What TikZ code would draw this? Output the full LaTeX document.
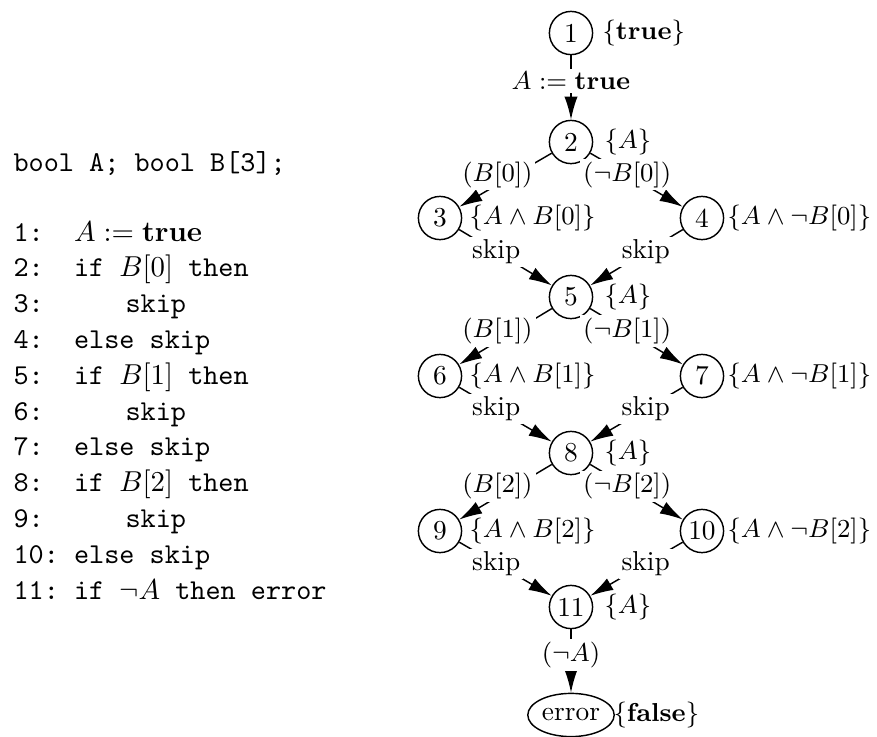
\documentclass[tikz,border=0pt]{standalone}
\usetikzlibrary{arrows.meta,shapes.geometric}
\begin{document}
\begin{tikzpicture}[x=0.3472pt,y=-0.3472pt,
  gfont/.style={font=\fontsize{9.5}{11.5}\selectfont},
  st/.style={circle,draw,line width=0.5pt,minimum size=15pt,inner sep=0.5pt,gfont},
  errst/.style={ellipse,draw,line width=0.5pt,minimum width=30pt,minimum height=15pt,inner sep=0pt,gfont},
  anno/.style={anchor=west,inner sep=0pt,gfont},
  elab/.style={fill=white,inner sep=1pt,pos=0.4,gfont},
  flow/.style={draw,line width=0.5pt,-{Latex[length=8pt,width=4.6pt]}},
  code/.style={anchor=base west,inner sep=0pt,font=\ttfamily}]
\useasboundingbox (0,0) rectangle (877,737);
% listing
\node[code] (decl) at (13,171) {bool A; bool B[3];};
\foreach \i in {1,...,11} {
  \node[code] (ln\i) at (13,{241+35.8*(\i-1)}) {\i:};
}
\node[code] (c1) at (73.5,241) {$A:=\mathbf{true}$};
\node[code] (c2) at (73.5,276.8) {if $B[0]$ then};
\node[code] (c3) at (125,312.6) {skip};
\node[code] (c4) at (73.5,348.4) {else skip};
\node[code] (c5) at (73.5,384.2) {if $B[1]$ then};
\node[code] (c6) at (125,420) {skip};
\node[code] (c7) at (73.5,455.8) {else skip};
\node[code] (c8) at (73.5,491.6) {if $B[2]$ then};
\node[code] (c9) at (125,527.4) {skip};
\node[code] (c10) at (73.5,563.2) {else skip};
\node[code] (c11) at (73.5,599) {if $\neg A$ then error};
% graph nodes
\node[st] (n1) at (571,33) {1};
\node[st] (n2) at (571,142) {2};
\node[st] (n3) at (440,218) {3};
\node[st] (n4) at (702,218) {4};
\node[st] (n5) at (571,297) {5};
\node[st] (n6) at (440,376) {6};
\node[st] (n7) at (702,376) {7};
\node[st] (n8) at (571,453) {8};
\node[st] (n9) at (440,531) {9};
\node[st] (n10) at (702,531) {10};
\node[st] (n11) at (571,607) {11};
\node[errst] (err) at (571,715) {error};
% annotations
\node[anno] (a1) at (602,33) {$\{\mathbf{true}\}$};
\node[anno] (a2) at (604,142) {$\{A\}$};
\node[anno] (a3) at (469,218) {$\{A\wedge B[0]\}$};
\node[anno] (a4) at (727,218) {$\{A\wedge\neg B[0]\}$};
\node[anno] (a5) at (604,297) {$\{A\}$};
\node[anno] (a6) at (469,376) {$\{A\wedge B[1]\}$};
\node[anno] (a7) at (727,376) {$\{A\wedge\neg B[1]\}$};
\node[anno] (a8) at (604,453) {$\{A\}$};
\node[anno] (a9) at (469,531) {$\{A\wedge B[2]\}$};
\node[anno] (a10) at (727,531) {$\{A\wedge\neg B[2]\}$};
\node[anno] (a11) at (604,607) {$\{A\}$};
\node[anno] (aerr) at (613,715) {$\{\mathbf{false}\}$};
% edges
\draw[flow] (n1) -- node[elab] (e12) {$A:=\mathbf{true}$} (n2);
\draw[flow] (n2) -- node[elab,xshift=-6pt] (e23) {$(B[0])$} (n3);
\draw[flow] (n2) -- node[elab] (e24) {$(\neg B[0])$} (n4);
\draw[flow] (n3) -- node[elab] (e35) {skip} (n5);
\draw[flow] (n4) -- node[elab] (e45) {skip} (n5);
\draw[flow] (n5) -- node[elab,xshift=-6pt] (e56) {$(B[1])$} (n6);
\draw[flow] (n5) -- node[elab] (e57) {$(\neg B[1])$} (n7);
\draw[flow] (n6) -- node[elab] (e68) {skip} (n8);
\draw[flow] (n7) -- node[elab] (e78) {skip} (n8);
\draw[flow] (n8) -- node[elab,xshift=-6pt] (e89) {$(B[2])$} (n9);
\draw[flow] (n8) -- node[elab] (e810) {$(\neg B[2])$} (n10);
\draw[flow] (n9) -- node[elab] (e911) {skip} (n11);
\draw[flow] (n10) -- node[elab] (e1011) {skip} (n11);
\draw[flow] (n11) -- node[elab] (e11e) {$(\neg A)$} (err);
\end{tikzpicture}
\end{document}
